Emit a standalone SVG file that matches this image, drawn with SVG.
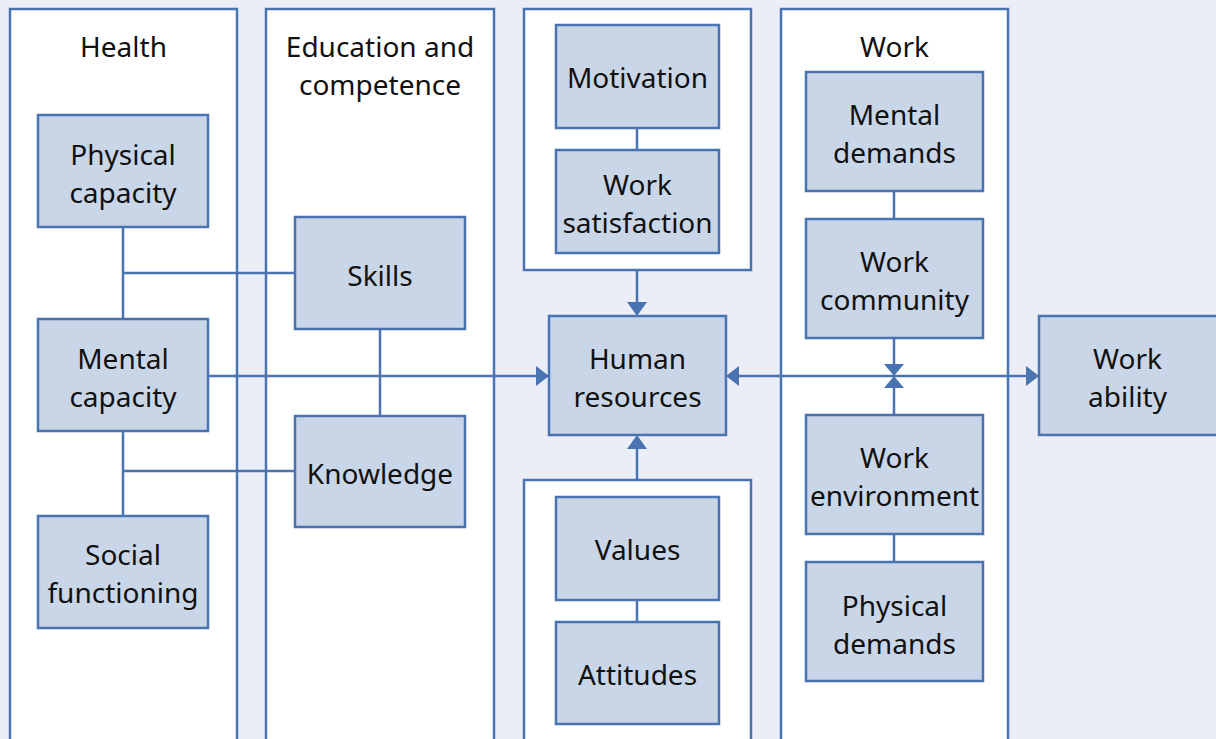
<svg xmlns="http://www.w3.org/2000/svg" width="1216" height="739" viewBox="0 0 1216 739">
  <style>
    .panel { fill: #ffffff; stroke: #4a73b1; stroke-width: 2.5; }
    .node rect { fill: #c9d6e7; stroke: #4a73b1; stroke-width: 2.5; }
    text { font-family: "Noto Sans", "Open Sans", sans-serif; font-size: 28px; fill: #111111; text-anchor: middle; }
    .link { fill: none; stroke: #4a73b1; stroke-width: 2.5; }
    .arrow { fill: #4a73b1; stroke: none; }
  </style>

  <!-- background -->
  <rect x="0" y="0" width="1216" height="739" fill="#ebeef7"/>

  <!-- column panels -->
  <g id="panels">
    <rect class="panel" x="10" y="9" width="227" height="745"/>
    <rect class="panel" x="266" y="9" width="228" height="745"/>
    <rect class="panel" x="524" y="9" width="227" height="261"/>
    <rect class="panel" x="524" y="480" width="227" height="275"/>
    <rect class="panel" x="781" y="9" width="227" height="745"/>
    <text x="123.5" y="57">Health</text>
    <text x="380" y="57">Education and</text>
    <text x="380" y="95">competence</text>
    <text x="894.5" y="57">Work</text>
  </g>

  <!-- connectors -->
  <g id="connectors">
    <line class="link" x1="123" y1="227" x2="123" y2="516"/>
    <line class="link" x1="123" y1="273" x2="295" y2="273"/>
    <line class="link" x1="123" y1="471" x2="295" y2="471"/>
    <line class="link" x1="380" y1="329" x2="380" y2="416"/>
    <line class="link" x1="208" y1="376" x2="537" y2="376"/>
    <polygon class="arrow" points="549,376 536,366 536,386"/>

    <line class="link" x1="637" y1="128" x2="637" y2="150"/>
    <line class="link" x1="637" y1="270" x2="637" y2="304"/>
    <polygon class="arrow" points="637,316 627,302 647,302"/>
    <line class="link" x1="637" y1="480" x2="637" y2="447"/>
    <polygon class="arrow" points="637,435 627,449 647,449"/>
    <line class="link" x1="637" y1="600" x2="637" y2="622"/>

    <line class="link" x1="738" y1="376" x2="1027" y2="376"/>
    <polygon class="arrow" points="726,376 739,366 739,386"/>
    <polygon class="arrow" points="1039,376 1026,366 1026,386"/>

    <line class="link" x1="894" y1="191" x2="894" y2="219"/>
    <line class="link" x1="894" y1="338" x2="894" y2="366"/>
    <polygon class="arrow" points="894,376 884,364 904,364"/>
    <line class="link" x1="894" y1="415" x2="894" y2="386"/>
    <polygon class="arrow" points="894,376 884,388 904,388"/>
    <line class="link" x1="894" y1="534" x2="894" y2="562"/>
  </g>

  <!-- health -->
  <g id="physical-capacity" class="node">
    <rect x="38" y="115" width="170" height="112"/>
    <text x="123" y="165">Physical</text>
    <text x="123" y="203">capacity</text>
  </g>
  <g id="mental-capacity" class="node">
    <rect x="38" y="319" width="170" height="112"/>
    <text x="123" y="369">Mental</text>
    <text x="123" y="407">capacity</text>
  </g>
  <g id="social-functioning" class="node">
    <rect x="38" y="516" width="170" height="112"/>
    <text x="123" y="565">Social</text>
    <text x="123" y="603">functioning</text>
  </g>

  <!-- education and competence -->
  <g id="skills" class="node">
    <rect x="295" y="217" width="170" height="112"/>
    <text x="380" y="286">Skills</text>
  </g>
  <g id="knowledge" class="node">
    <rect x="295" y="416" width="170" height="111"/>
    <text x="380" y="484">Knowledge</text>
  </g>

  <!-- centre column -->
  <g id="motivation" class="node">
    <rect x="556" y="25" width="163" height="103"/>
    <text x="637.5" y="88">Motivation</text>
  </g>
  <g id="work-satisfaction" class="node">
    <rect x="556" y="150" width="163" height="103"/>
    <text x="637.5" y="195">Work</text>
    <text x="637.5" y="233">satisfaction</text>
  </g>
  <g id="human-resources" class="node">
    <rect x="549" y="316" width="177" height="119"/>
    <text x="637.5" y="369">Human</text>
    <text x="637.5" y="407">resources</text>
  </g>
  <g id="values" class="node">
    <rect x="556" y="497" width="163" height="103"/>
    <text x="637.5" y="560">Values</text>
  </g>
  <g id="attitudes" class="node">
    <rect x="556" y="622" width="163" height="102"/>
    <text x="637.5" y="685">Attitudes</text>
  </g>

  <!-- work -->
  <g id="mental-demands" class="node">
    <rect x="806" y="72" width="177" height="119"/>
    <text x="894.5" y="125">Mental</text>
    <text x="894.5" y="163">demands</text>
  </g>
  <g id="work-community" class="node">
    <rect x="806" y="219" width="177" height="119"/>
    <text x="894.5" y="272">Work</text>
    <text x="894.5" y="310">community</text>
  </g>
  <g id="work-environment" class="node">
    <rect x="806" y="415" width="177" height="119"/>
    <text x="894.5" y="468">Work</text>
    <text x="894.5" y="506">environment</text>
  </g>
  <g id="physical-demands" class="node">
    <rect x="806" y="562" width="177" height="119"/>
    <text x="894.5" y="616">Physical</text>
    <text x="894.5" y="654">demands</text>
  </g>

  <!-- outcome -->
  <g id="work-ability" class="node">
    <rect x="1039" y="316" width="180" height="119"/>
    <text x="1127.5" y="369">Work</text>
    <text x="1127.5" y="407">ability</text>
  </g>
</svg>
